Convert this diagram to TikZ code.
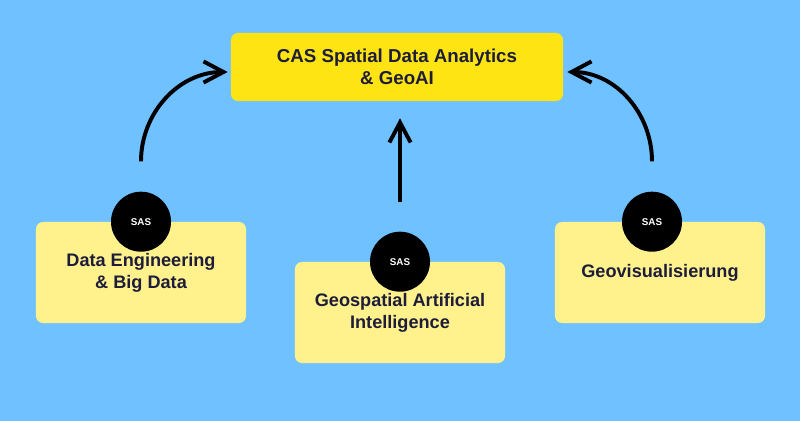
\documentclass[tikz,border=0pt]{standalone}
\usepackage{fontspec}
\setmainfont{Liberation Sans}
\usetikzlibrary{arrows.meta,positioning,backgrounds,calc}
\definecolor{himmel}{HTML}{6FC1FF}
\definecolor{gelb}{HTML}{FFE414}
\definecolor{hellgelb}{HTML}{FFF28C}
\definecolor{tinte}{HTML}{1D1D3B}
\tikzset{%
  kurs/.style={fill=gelb, rounded corners=5pt, minimum width=8.3cm, minimum height=1.7cm, text=tinte, align=center, font=\bfseries\fontsize{13.3}{15.6}\selectfont},
  modul/.style={kurs, fill=hellgelb, minimum width=5.25cm, minimum height=2.525cm, font=\bfseries\fontsize{12.9}{15.6}\selectfont},
  badge/.style={circle, fill=black, minimum size=1.5cm, inner sep=0pt, text=white, font=\bfseries\fontsize{7}{8}\selectfont},
  pfeil/.style={draw, line width=2.8pt, -{Straight Barb[length=0.5cm, width=0.53cm]}},
}

\begin{document}
\begin{tikzpicture}[x=0.025cm, y=0.025cm]
  \useasboundingbox (0,0) rectangle (800,420);
  \fill [himmel] (-5,-5) rectangle (805,425);

  \node (cas) [kurs] at (397,353) {CAS Spatial Data Analytics\\ \& GeoAI};

  \node (m1) [modul] at (141,147.5) {Data Engineering\\ \& Big Data};
  \node (m2) [modul] at (400,107.5) {Geospatial Artificial\\ Intelligence};
  \node (m3) [modul] at (660,147.5) {Geovisualisierung};

  \node (s1) [badge] at (m1.north) {SAS};
  \node (s2) [badge] at (m2.north) {SAS};
  \node (s3) [badge] at ([xshift=-0.2cm]m3.north) {SAS};

  % Pfeile zum CAS
  \path [pfeil] ($(s1.north)+(0,30)$) to[out=90, in=180] ($(cas.west)+(-3,-5)$);
  \path [pfeil] ($(s2.north)+(0,29)$) -- ($(s2.north |- cas.south)+(0,-17)$);
  \path [pfeil] ($(s3.north)+(0,30)$) to[out=90, in=0] ($(cas.east)+(4,-5)$);
\end{tikzpicture}
\end{document}
